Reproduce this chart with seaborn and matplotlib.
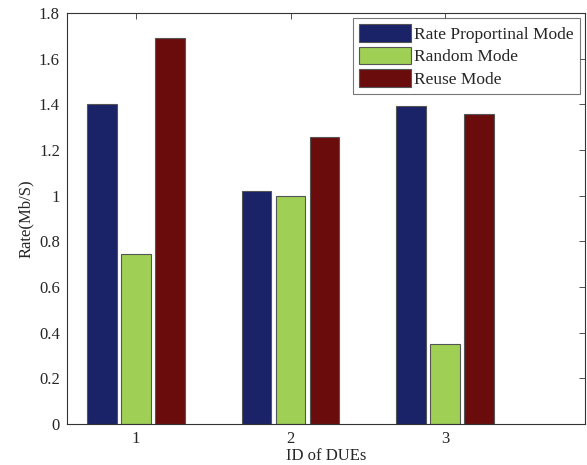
import numpy as np
import pandas as pd
import matplotlib
matplotlib.use("Agg")
import matplotlib.pyplot as plt
import seaborn as sns

due_ids = ["1", "2", "3"]
modes = ["Rate Proportinal Mode", "Random Mode", "Reuse Mode"]
rate_prop = [1.40, 1.02, 1.395]
random_mode = [0.745, 1.00, 0.35]
reuse_mode = [1.69, 1.257, 1.357]
colors = ["#1a2268", "#9fcf55", "#6b0c0c"]

df = pd.DataFrame({
    "DUE": due_ids * 3,
    "Mode": np.repeat(modes, 3),
    "Rate": rate_prop + random_mode + reuse_mode,
})

sns.set_style("white")
plt.rcParams["font.family"] = ["Liberation Serif", "DejaVu Serif"]

fig = plt.figure(figsize=(5.87, 4.65), dpi=100)
ax = fig.add_axes([0.114, 0.088, 0.8826, 0.884])

sns.barplot(data=df, x="DUE", y="Rate", hue="Mode", order=due_ids,
            hue_order=modes, palette=colors, width=0.66, gap=0.14,
            edgecolor="#555555", linewidth=0.8, saturation=1, ax=ax)

ax.set_xlim(-0.447, 2.906)
ax.set_ylim(0, 1.8)
ax.set_yticks(np.arange(0, 1.81, 0.2))
ax.set_yticklabels(["0", "0.2", "0.4", "0.6", "0.8", "1", "1.2", "1.4", "1.6", "1.8"])
ax.set_xlabel("ID of DUEs", fontsize=12, labelpad=1)
ax.set_ylabel("Rate(Mb/S)", fontsize=12)
ax.tick_params(direction="in", top=True, right=True, labelsize=12, length=4,
               width=0.6, color="#333333", pad=5)
for s in ax.spines.values():
    s.set_linewidth(0.8)
    s.set_color("#333333")

leg = ax.legend(loc="upper right", fontsize=12.5, frameon=True, fancybox=False,
                edgecolor="#555555", borderaxespad=0.3, handlelength=3.0,
                handleheight=1.2, handletextpad=0.15, labelspacing=0.2,
                borderpad=0.35)
leg.get_frame().set_linewidth(0.8)

fig.savefig("out.png", dpi=100)
